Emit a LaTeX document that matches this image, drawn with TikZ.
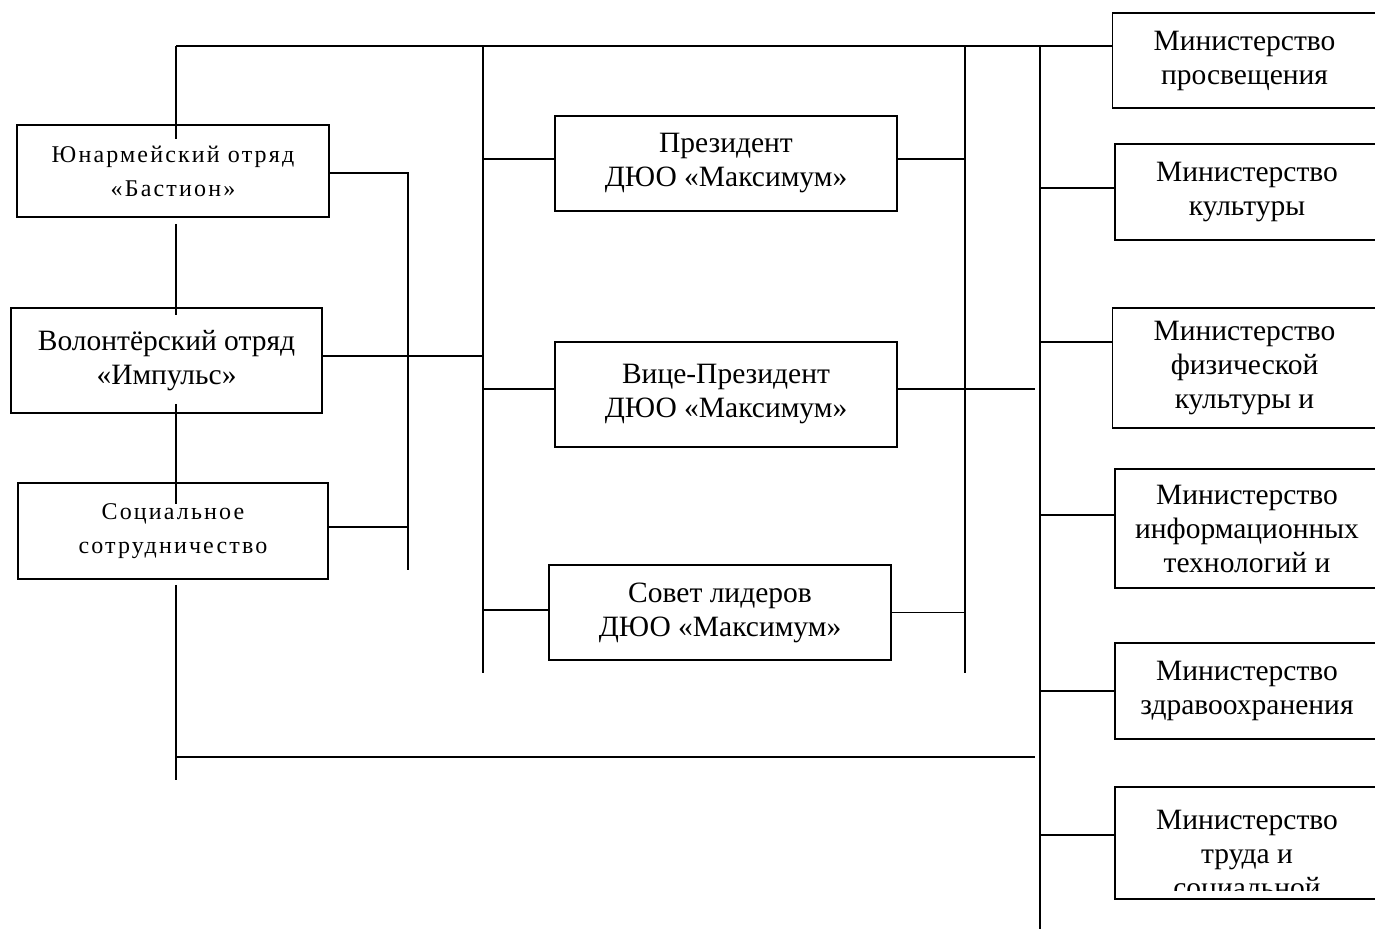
\documentclass[tikz,border=0pt]{standalone}
\usepackage{fontspec}
\setmainfont{Liberation Serif}
\newfontfamily\widefont[LetterSpace=9]{Liberation Serif}

\begin{document}
\begin{tikzpicture}[x=1pt, y=-1pt, line width=1.6pt,
  box/.style={draw, rectangle, align=center, inner sep=0pt, font=\fontsize{29.5}{34}\selectfont},
  widebox/.style={box, font=\widefont\fontsize{24}{34}\selectfont},
  minbox/.style={box, minimum width=264pt}]
\clip (0,0) rectangle (1375,929);

% left column
\node[widebox, minimum width=312pt, minimum height=92pt] (yun) at (173,171) {Юнармейский отряд\\«Бастион»};
\node[box, minimum width=311pt, minimum height=105pt] (vol) at (166.5,360.5) {Волонтёрский отряд\\«Импульс»};
\node[widebox, minimum width=310pt, minimum height=96pt] (soc) at (173,531) {Социальное\\сотрудничество};

% middle column
\node[box, minimum width=342pt, minimum height=95pt] (pres) at (726,163.5) {Президент\\ДЮО «Максимум»};
\node[box, minimum width=342pt, minimum height=105pt] (vice) at (726,394.5) {Вице-Президент\\ДЮО «Максимум»};
\node[box, minimum width=342pt, minimum height=95pt] (sov) at (720,612.5) {Совет лидеров\\ДЮО «Максимум»};

% ministries
\node[minbox, minimum height=95pt] (pros) at (1244.5,60.5) {Министерство\\просвещения};
\node[minbox, minimum height=96pt] (kult) at (1247,192) {Министерство\\культуры};
\node[minbox, minimum height=120pt] (fiz) at (1244.5,368) {Министерство\\физической\\культуры и};
\node[minbox, minimum height=119pt] (info) at (1247,528.5) {Министерство\\информационных\\технологий и};
\node[minbox, minimum height=96pt] (zdrav) at (1247,691) {Министерство\\здравоохранения};
\node[minbox, minimum height=112pt] (trud) at (1247,843) {};
\begin{scope}
  \clip (trud.north west) rectangle ([yshift=9pt]trud.south east);
  \node[box, draw=none] (trudtext) at ([yshift=-14pt]trud.center) {Министерство\\труда и\\социальной};
\end{scope}

% spines
\coordinate (t1) at (176,46);  \coordinate (b1) at (176,780);
\coordinate (t2) at (483,46);  \coordinate (b2) at (483,673);
\coordinate (t3) at (965,46);  \coordinate (b3) at (965,673);
\coordinate (t4) at (1040,46); \coordinate (b4) at (1040,929);
\coordinate (brk) at (408,570);
\coordinate (bm) at (1035,757);

\draw (t1) -- (t1 -| pros.west);
\draw (t2) -- (b2);
\draw (t3) -- (b3);
\draw (t4) -- (b4);

% left chain
\draw (t1) -- ([yshift=-15pt]t1 |- yun.north);
\draw ([yshift=-6pt]t1 |- yun.south) -- ([yshift=-8pt]t1 |- vol.north);
\draw ([yshift=10pt]t1 |- vol.south) -- ([yshift=-22pt]t1 |- soc.north);
\draw ([yshift=-5pt]t1 |- soc.south) -- (b1);
\draw (bm -| b1) -- (bm);

% bracket
\draw ([yshift=-2pt]yun.east) -| (brk);
\draw ([yshift=4pt]soc.east) -- ([yshift=4pt]soc.east -| brk);
\draw ([yshift=4.5pt]vol.east) -- ([yshift=4.5pt]vol.east -| t2);

% middle ticks
\foreach \n/\d in {pres/4.5, vice/5.5, sov/2.5}
  \draw ([yshift=\d pt]t2 |- \n.west) -- ([yshift=\d pt]\n.west);
\draw ([yshift=4.5pt]pres.east) -- ([yshift=4.5pt]pres.east -| t3);
\draw ([yshift=5.5pt]vice.east) -- ([yshift=5.5pt]vice.east -| bm);
\draw (sov.east) -- (sov.east -| t3);

% ministry ticks
\foreach \n/\d in {kult/4, fiz/26, info/13.5, zdrav/0, trud/8}
  \draw ([yshift=\d pt]t4 |- \n.west) -- ([yshift=\d pt]\n.west);
\end{tikzpicture}
\end{document}
